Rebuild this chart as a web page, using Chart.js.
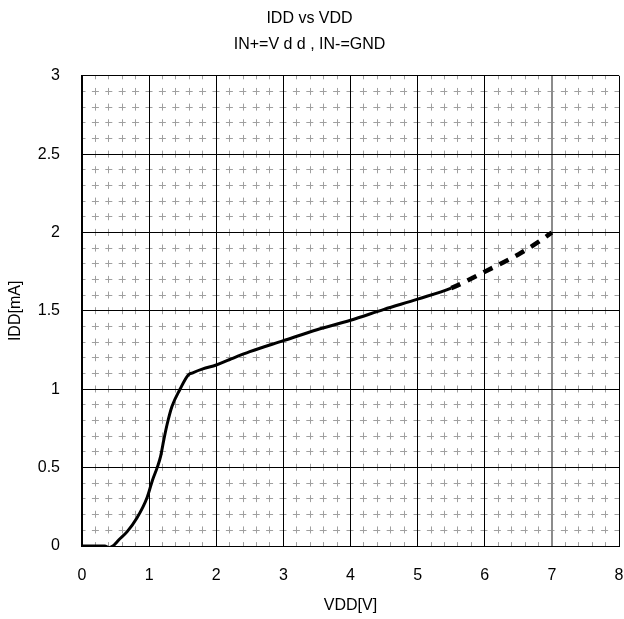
<!DOCTYPE html>
<html>
<head>
<meta charset="utf-8">
<script src="https://cdn.jsdelivr.net/npm/chart.js@4/dist/chart.umd.min.js"></script>
<style>
  html, body { margin: 0; padding: 0; background: #fff; }
  #wrap { width: 624px; height: 619px; }
</style>
</head>
<body>
<div id="wrap"><canvas id="idd-chart" width="624" height="619"></canvas></div>
<script>
// VDD [V] と IDD [mA] の読み取り値
var vdd = [0, 0.34, 0.40, 0.46, 0.55, 0.67, 0.82, 0.97, 1.05, 1.12, 1.17, 1.22, 1.27, 1.34, 1.46, 1.58, 1.65, 1.8, 2.0, 2.2, 2.5, 3.0, 3.5, 4.0, 4.5, 5.0, 5.5, 6.0, 6.5, 6.8, 7.0];
var idd = [0, 0, -0.01, 0.0, 0.04, 0.09, 0.18, 0.31, 0.42, 0.50, 0.57, 0.68, 0.78, 0.89, 1.00, 1.09, 1.105, 1.13, 1.155, 1.19, 1.24, 1.31, 1.38, 1.44, 1.51, 1.575, 1.645, 1.75, 1.86, 1.94, 2.0];
var dashedFrom = 5.5; // ここから先は破線

var xTickLabels = ['0', '1', '2', '3', '4', '5', '6', '7', '8'];
var yTickLabels = ['0', '0.5', '1', '1.5', '2', '2.5', '3'];
var titleLines = ['IDD vs VDD', 'IN+=V d d , IN-=GND'];

var FONT = "'Liberation Sans', Arial, sans-serif";

function isMajor(v, step) {
    var r = v / step;
    return Math.abs(r - Math.round(r)) < 1e-6;
}

var points = vdd.map(function (v, i) {
    return { x: v, y: idd[i] };
});

function noPad(s) {
    s.paddingLeft = 0;
    s.paddingRight = 0;
    s.paddingTop = 0;
    s.paddingBottom = 0;
}

new Chart(document.getElementById('idd-chart'), {
    type: 'line',
    data: {
        datasets: [{
            data: points,
            borderColor: '#000',
            borderWidth: 3,
            pointRadius: 0,
            fill: false,
            cubicInterpolationMode: 'monotone',
            segment: {
                borderDash: function (ctx) {
                    return ctx.p0.parsed.x >= dashedFrom ? [10, 8] : undefined;
                },
                borderWidth: function (ctx) {
                    return ctx.p0.parsed.x >= dashedFrom ? 4.5 : undefined;
                }
            }
        }]
    },
    options: {
        responsive: false,
        animation: false,
        layout: { padding: { left: 0, right: 5, top: 0, bottom: 0 } },
        plugins: {
            legend: { display: false },
            tooltip: { enabled: false },
            title: {
                display: true,
                text: titleLines,
                color: '#000',
                font: { family: FONT, size: 16, weight: 'normal', lineHeight: 1.65 },
                padding: { top: 5, bottom: 18 }
            }
        },
        scales: {
            // 補助目盛 (破線)
            xMinor: {
                type: 'linear',
                position: 'bottom',
                min: 0, max: 8,
                ticks: { display: false, stepSize: 0.2 },
                border: { display: false, dash: [7, 8.66], dashOffset: 3.5 },
                grid: {
                    drawTicks: false,
                    lineWidth: 1,
                    color: function (ctx) {
                        return isMajor(ctx.tick.value, 1) ? 'rgba(0,0,0,0)' : '#a0a0a0';
                    }
                },
                afterFit: function (s) { s.height = 0; noPad(s); }
            },
            yMinor: {
                type: 'linear',
                position: 'left',
                min: 0, max: 3,
                ticks: { display: false, stepSize: 0.1 },
                border: { display: false, dash: [7, 6.4], dashOffset: 3.5 },
                grid: {
                    drawTicks: false,
                    lineWidth: 1,
                    color: function (ctx) {
                        return isMajor(ctx.tick.value, 0.5) ? 'rgba(0,0,0,0)' : '#a0a0a0';
                    }
                },
                afterFit: function (s) { s.width = 0; noPad(s); }
            },
            x: {
                type: 'linear',
                position: 'bottom',
                min: 0, max: 8,
                ticks: {
                    stepSize: 1,
                    color: '#000',
                    padding: 20,
                    maxRotation: 0,
                    font: { family: FONT, size: 16 },
                    callback: function (v) {
                        return isMajor(v, 1) ? xTickLabels[Math.round(v)] : '';
                    }
                },
                border: { display: true, color: '#000', width: 1 },
                grid: {
                    drawTicks: false,
                    color: function (ctx) {
                        return ctx.tick.value === 7 ? '#8c8c8c' : '#000';
                    },
                    lineWidth: function (ctx) {
                        return ctx.tick.value === 7 ? 2 : 1;
                    }
                },
                title: {
                    display: true,
                    text: 'VDD[V]',
                    color: '#000',
                    font: { family: FONT, size: 16 },
                    padding: { top: 0, bottom: 4 }
                },
                afterFit: function (s) { s.height = 73; noPad(s); }
            },
            y: {
                type: 'linear',
                position: 'left',
                min: 0, max: 3,
                ticks: {
                    stepSize: 0.5,
                    color: '#000',
                    padding: 22,
                    font: { family: FONT, size: 16 },
                    callback: function (v) {
                        return isMajor(v, 0.5) ? yTickLabels[Math.round(v * 2)] : '';
                    }
                },
                border: { display: true, color: '#000', width: 2 },
                grid: { drawTicks: false, color: '#000', lineWidth: 1 },
                title: {
                    display: true,
                    text: 'IDD[mA]',
                    color: '#000',
                    font: { family: FONT, size: 16 },
                    padding: { top: 6, bottom: 0 }
                },
                afterFit: function (s) { s.width = 82; noPad(s); }
            }
        }
    }
});
</script>
</body>
</html>
